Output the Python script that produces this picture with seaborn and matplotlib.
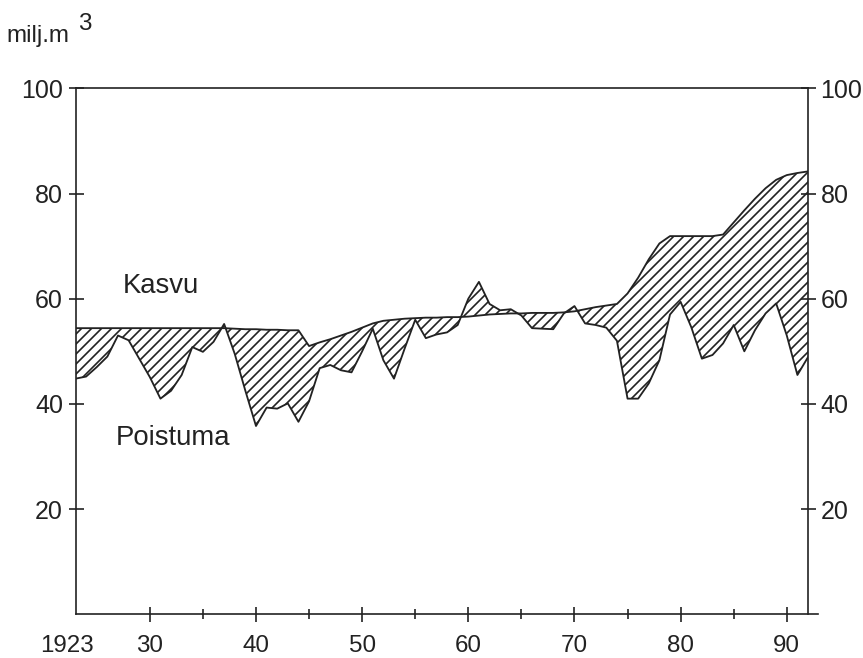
import numpy as np
import pandas as pd
import matplotlib
matplotlib.use("Agg")
import matplotlib.pyplot as plt
import matplotlib.transforms as mtransforms
from matplotlib import font_manager
import seaborn as sns
from matplotlib.ticker import FixedLocator

# ==========================================
# DATA (milj. m3, 1923-1992)
# ==========================================

years = list(range(1923, 1993))

kasvu = [
    54.4, 54.4, 54.4, 54.4, 54.4, 54.4, 54.4, 54.4, 54.4, 54.4,   # 1923-32
    54.4, 54.4, 54.4, 54.4, 54.4, 54.3, 54.2, 54.2, 54.1, 54.1,   # 1933-42
    54.0, 54.0, 51.0, 51.7, 52.3, 53.0, 53.7, 54.5, 55.3, 55.8,   # 1943-52
    56.0, 56.2, 56.3, 56.4, 56.4, 56.5, 56.5, 56.6, 56.8, 57.0,   # 1953-62
    57.1, 57.2, 57.2, 57.3, 57.3, 57.3, 57.4, 57.6, 58.0, 58.4,   # 1963-72
    58.7, 59.0, 61.0, 64.0, 67.5, 70.5, 71.9, 71.9, 71.9, 71.9,   # 1973-82
    71.9, 72.2, 74.5, 76.8, 79.0, 81.0, 82.6, 83.5, 83.9, 84.2,   # 1983-92
]

poistuma = [
    44.8, 45.2, 47.0, 49.0, 53.0, 52.1, 48.6, 45.1, 41.0, 42.5,   # 1923-32
    45.5, 50.8, 49.9, 51.8, 55.2, 49.5, 42.5, 35.8, 39.3, 39.1,   # 1933-42
    40.1, 36.6, 40.5, 46.8, 47.4, 46.4, 46.0, 50.0, 54.3, 48.3,   # 1943-52
    44.8, 50.5, 56.0, 52.5, 53.2, 53.6, 55.0, 60.0, 63.2, 59.0,   # 1953-62
    57.8, 58.0, 56.8, 54.4, 54.3, 54.2, 57.2, 58.6, 55.3, 55.0,   # 1963-72
    54.5, 52.0, 41.0, 41.0, 43.9, 48.3, 57.0, 59.4, 54.6, 48.6,   # 1973-82
    49.3, 51.5, 55.0, 50.0, 54.0, 57.2, 59.1, 53.0, 45.5, 48.9,   # 1983-92
]

y_ticks = [20, 40, 60, 80, 100]
x_major = [1923, 1930, 1940, 1950, 1960, 1970, 1980, 1990]
x_labels = ["1923", "30", "40", "50", "60", "70", "80", "90"]
x_minor = [1935, 1945, 1955, 1965, 1975, 1985]

df = pd.DataFrame({"Vuosi": years, "Kasvu": kasvu, "Poistuma": poistuma})

# ==========================================
# STYLE
# ==========================================

sns.set_style("ticks")
plt.rcParams["font.family"] = ["Liberation Sans", "DejaVu Sans"]
plt.rcParams["hatch.linewidth"] = 1.0

ink = "#222222"

# tick numbers are set in a narrow face in the original
try:
    font_manager.findfont(font_manager.FontProperties(family="Liberation Sans Narrow"),
                          fallback_to_default=False)
    narrow = ["Liberation Sans Narrow", "Liberation Sans"]
    tick_size = 15.5
except Exception:
    narrow = ["Liberation Sans", "DejaVu Sans"]
    tick_size = 14.5

fig = plt.figure(figsize=(863 / 120, 658 / 120), dpi=120)
ax = fig.add_axes([0.0875, 0.0664, 0.8488, 0.7994])

# ==========================================
# LINES + HATCHED DIFFERENCE
# ==========================================

sns.lineplot(data=df, x="Vuosi", y="Kasvu", color=ink, linewidth=1.1, ax=ax)
sns.lineplot(data=df, x="Vuosi", y="Poistuma", color=ink, linewidth=1.1, ax=ax)

ax.fill_between(df["Vuosi"], df["Kasvu"], df["Poistuma"],
                facecolor="none", edgecolor=ink, hatch="////", linewidth=0)

ax.set_xlim(1923, 1992)
ax.set_ylim(0, 100)
ax.set_xlabel("")
ax.set_ylabel("")

# ==========================================
# AXES / TICKS
# ==========================================

for side in ["left", "right", "top", "bottom"]:
    ax.spines[side].set_visible(True)
    ax.spines[side].set_color(ink)
    ax.spines[side].set_linewidth(1.0)
ax.spines["bottom"].set_bounds(1923, 1992.9)

ax.xaxis.set_major_locator(FixedLocator(x_major))
ax.xaxis.set_minor_locator(FixedLocator(x_minor))
ax.set_xticklabels(x_labels)
ax.set_yticks(y_ticks)

ax.tick_params(axis="x", which="major", direction="inout", length=9, width=1.0,
               color=ink, pad=8, labelsize=tick_size, labelcolor=ink)
ax.tick_params(axis="x", which="minor", direction="inout", length=6, width=1.0,
               color=ink)
ax.tick_params(axis="y", direction="inout", length=9, width=1.0, color=ink,
               pad=3, labelsize=tick_size + 0.5, labelcolor=ink,
               left=True, right=True, labelleft=True, labelright=True)

for lab in ax.get_xticklabels() + ax.get_yticklabels():
    lab.set_family(narrow)

# first x tick sits on the left spine: hide its mark, nudge the label left
first = ax.xaxis.get_major_ticks()[0]
first.tick1line.set_visible(False)
first.tick2line.set_visible(False)
first.label1.set_transform(first.label1.get_transform()
                           + mtransforms.ScaledTranslation(-5 / 72, 0, fig.dpi_scale_trans))

ax.grid(False)

# ==========================================
# TEXTS
# ==========================================

fig.text(0.1866, 0.5547, "Kasvu", fontsize=16.5, color=ink, ha="center", va="baseline")
fig.text(0.2005, 0.3237, "Poistuma", fontsize=16.5, color=ink, ha="center", va="baseline")
fig.text(0.008, 0.936, "milj.m", fontsize=14.5, color=ink, ha="left", va="baseline")
fig.text(0.090, 0.980, "3", fontsize=14.5, color=ink, ha="left", va="top")

fig.savefig("out.png", dpi=120, facecolor="white")
plt.close()
